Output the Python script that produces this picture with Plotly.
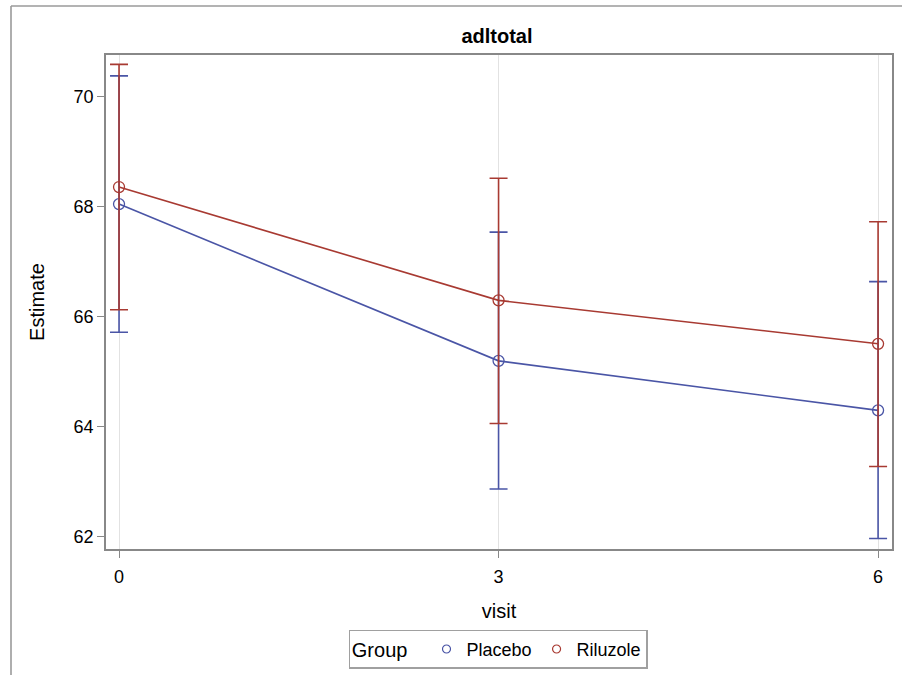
import plotly.graph_objects as go

visits = [0, 3, 6]
groups = ["Placebo", "Riluzole"]
placebo_est = [68.05, 65.20, 64.30]
placebo_upper = [70.38, 67.54, 66.64]
placebo_lower = [65.72, 62.87, 61.97]
riluzole_est = [68.36, 66.30, 65.51]
riluzole_upper = [70.59, 68.52, 67.73]
riluzole_lower = [66.13, 64.06, 63.28]
colors = ["#4a55a6", "#a83a32"]
y_ticks = [62, 64, 66, 68, 70]
x_ticks = [0, 3, 6]

FONT = "Liberation Sans, Arial, sans-serif"

fig = go.Figure()
series = [
    (groups[0], placebo_est, placebo_upper, placebo_lower, colors[0]),
    (groups[1], riluzole_est, riluzole_upper, riluzole_lower, colors[1]),
]
for name, est, up, lo, col in series:
    fig.add_trace(go.Scatter(
        x=visits, y=est, mode="lines+markers", name=name, showlegend=False,
        line=dict(color=col, width=1.6),
        marker=dict(symbol="circle-open", size=11, color=col, line=dict(width=1.3)),
        error_y=dict(type="data", symmetric=False,
                     array=[u - e for u, e in zip(up, est)],
                     arrayminus=[e - l for e, l in zip(est, lo)],
                     color=col, thickness=1.6, width=9),
    ))
for name, est, up, lo, col in series:
    fig.add_trace(go.Scatter(
        x=[None], y=[None], mode="markers", name=name, showlegend=True,
        marker=dict(symbol="circle-open", size=8, color=col, line=dict(width=1.2)),
    ))

L, R, T, B = 106, 10, 55, 126
W, H = 902, 675
pw = W - L - R
ph = H - T - B

def px_x(p):
    return (p - L) / pw

def px_y(p):
    return (H - B - p) / ph

fig.update_layout(
    width=W, height=H,
    margin=dict(l=L, r=R, t=T, b=B, autoexpand=False),
    paper_bgcolor="white", plot_bgcolor="white",
    font=dict(family=FONT, size=18, color="black"),
    title=dict(text="<b>adltotal</b>", xref="container", x=497 / W, xanchor="center",
               yref="container", y=1 - 36 / H, yanchor="middle", font=dict(size=20)),
    xaxis=dict(range=[-0.103, 6.11], tickvals=x_ticks, ticks="outside",
               ticklen=7, tickcolor="#888", tickwidth=1.3,
               showgrid=True, gridcolor="#e2e2e2", gridwidth=1.3,
               zeroline=False, showline=True, linecolor="#888", linewidth=1.6,
               mirror=True, tickfont=dict(size=18), ticklabelstandoff=4,
               title=dict(text="visit", font=dict(size=20), standoff=18)),
    yaxis=dict(range=[61.78, 70.76], tickvals=y_ticks, ticks="outside",
               ticklen=7, tickcolor="#888", tickwidth=1.3,
               showgrid=False, zeroline=False, showline=True, linecolor="#888",
               linewidth=1.6, mirror=True, tickfont=dict(size=18),
               title=dict(text="Estimate", font=dict(size=20), standoff=24)),
    legend=dict(orientation="h", x=px_x(498), xanchor="center",
                y=px_y(649), yanchor="middle",
                bordercolor="#a0a0a0", borderwidth=1.3,
                font=dict(size=18), itemsizing="trace",
                title=dict(text="Group  ", font=dict(size=20)),
                itemwidth=30, tracegroupgap=0),
)

# outer frame (left and top edges visible)
fig.add_shape(type="line", xref="paper", yref="paper",
              x0=px_x(11), x1=px_x(11), y0=px_y(6), y1=px_y(690),
              line=dict(color="#9a9a9a", width=1.6))
fig.add_shape(type="line", xref="paper", yref="paper",
              x0=px_x(11), x1=px_x(920), y0=px_y(6), y1=px_y(6),
              line=dict(color="#9a9a9a", width=1.6))

fig.write_html("out.html")
